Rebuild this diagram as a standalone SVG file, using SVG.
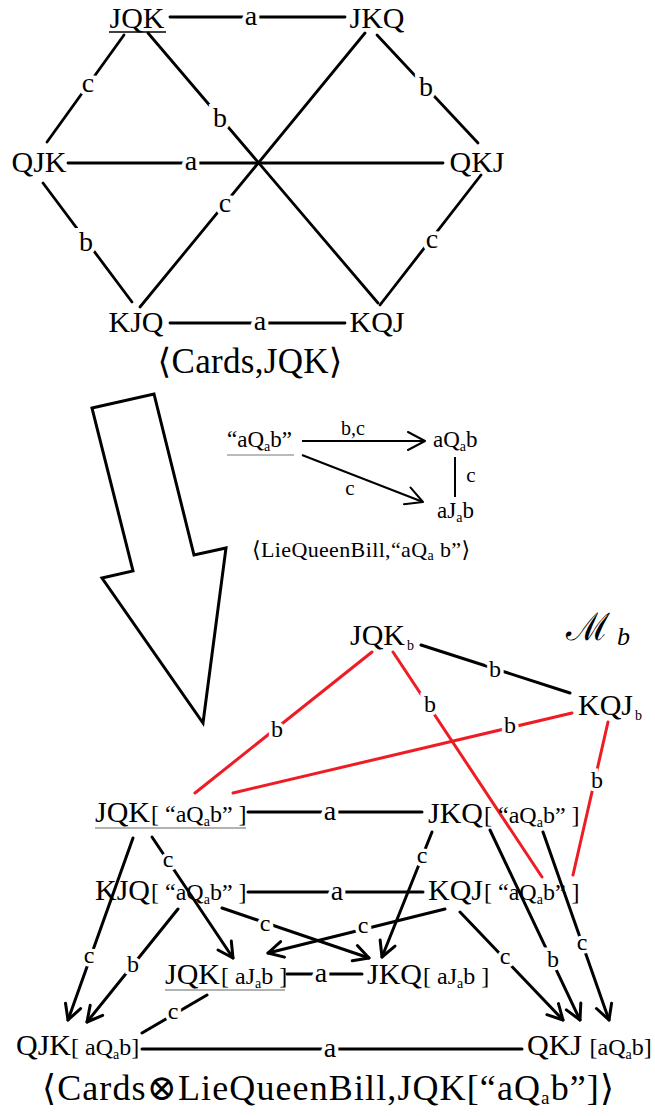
<svg xmlns="http://www.w3.org/2000/svg" width="655" height="1116" viewBox="0 0 655 1116">
<style>
text{font-family:"Liberation Serif","DejaVu Serif",serif;fill:#000}
.n{font-size:30px}
.nm{font-size:30px;text-anchor:middle}
.br{font-size:24px}
.sub{font-size:14px}
.lh{font-size:28px;text-anchor:middle;stroke:#fff;stroke-width:8px;paint-order:stroke}
.ls{font-size:24px;text-anchor:middle;stroke:#fff;stroke-width:7px;paint-order:stroke}
.lm{font-size:21px;text-anchor:middle}
.k{stroke:#000;stroke-width:2.8;fill:none;stroke-linecap:round}
.kb{stroke:#000;stroke-width:3;fill:none;stroke-linecap:round}
.km{stroke:#000;stroke-width:2;fill:none}
.r{stroke:#ee1c25;stroke-width:3;fill:none;stroke-linecap:round}
.ul{stroke:#999;stroke-width:1.5}
.cap{font-size:35px;text-anchor:middle}
</style>
<defs>
<marker id="ah" markerUnits="userSpaceOnUse" viewBox="0 0 20 20" refX="18" refY="10" markerWidth="20" markerHeight="20" orient="auto"><path d="M3,2 L18,10 L3,18" fill="none" stroke="#000" stroke-width="3" stroke-linecap="round" stroke-linejoin="round"/></marker>
<marker id="am" markerUnits="userSpaceOnUse" viewBox="0 0 20 20" refX="19" refY="10" markerWidth="20" markerHeight="20" orient="auto"><path d="M2,1 L19,10 L2,19" fill="none" stroke="#000" stroke-width="2" stroke-linecap="round" stroke-linejoin="round"/></marker>
</defs>
<rect width="655" height="1116" fill="#fff"/>

<!-- Top hexagon connectors -->
<g id="connectors-top">
<line class="k" x1="170" y1="17" x2="345" y2="17"/>
<line class="k" x1="124" y1="35" x2="47" y2="142"/>
<line class="k" x1="148" y1="33" x2="378" y2="303"/>
<line class="k" x1="365" y1="33" x2="140" y2="307"/>
<line class="k" x1="377" y1="35" x2="478" y2="143"/>
<line class="k" x1="68" y1="163" x2="443" y2="163"/>
<line class="k" x1="43" y1="183" x2="132" y2="302"/>
<line class="k" x1="481" y1="175" x2="380" y2="305"/>
<line class="k" x1="170" y1="323" x2="345" y2="323"/>
<text class="lh" x="251" y="25">a</text>
<text class="lh" x="88" y="92">c</text>
<text class="lh" x="220" y="127">b</text>
<text class="lh" x="225" y="212">c</text>
<text class="lh" x="426" y="96">b</text>
<text class="lh" x="191" y="170">a</text>
<text class="lh" x="86" y="251">b</text>
<text class="lh" x="432" y="248">c</text>
<text class="lh" x="260" y="330">a</text>
</g>

<g id="node-JQK"><text class="nm" x="137" y="28">JQK</text><line class="ul" x1="109" y1="32" x2="166" y2="32" style="stroke:#000"/></g>
<g id="node-JKQ"><text class="nm" x="377" y="28">JKQ</text></g>
<g id="node-QJK"><text class="nm" x="39" y="172">QJK</text></g>
<g id="node-QKJ"><text class="nm" x="477" y="172">QKJ</text></g>
<g id="node-KJQ"><text class="nm" x="136" y="332">KJQ</text></g>
<g id="node-KQJ"><text class="nm" x="377" y="332">KQJ</text></g>
<g id="caption-cards"><text class="cap" x="250" y="373" textLength="185" lengthAdjust="spacing">⟨Cards,JQK⟩</text></g>

<!-- Big hollow arrow -->
<g id="big-arrow"><polygon points="92,408 154,394 194,555 226,548 203,723 102,578 133,571" fill="#fff" stroke="#000" stroke-width="3" stroke-linejoin="miter"/></g>

<!-- Middle LieQueenBill diagram -->
<g id="connectors-mid">
<line class="km" x1="302" y1="441" x2="425" y2="441" marker-end="url(#am)"/>
<line class="km" x1="302" y1="455" x2="423" y2="502" marker-end="url(#am)"/>
<line class="km" x1="455" y1="457" x2="455" y2="497"/>
<text class="lm" x="353" y="435" style="font-size:20px">b,c</text>
<text class="lm" x="350" y="495">c</text>
<text class="lm" x="471" y="482">c</text>
</g>
<g id="node-aQab-start"><text x="227" y="447" style="font-size:23px">“aQ<tspan class="sub" dy="4">a</tspan><tspan dy="-4">b”</tspan></text><line x1="227" y1="455" x2="294" y2="455" stroke="#777" stroke-width="1"/></g>
<g id="node-aQab"><text x="433" y="447" style="font-size:23px">aQ<tspan class="sub" dy="4">a</tspan><tspan dy="-4">b</tspan></text></g>
<g id="node-aJab"><text x="437" y="518" style="font-size:23px">aJ<tspan class="sub" dy="4">a</tspan><tspan dy="-4">b</tspan></text></g>
<g id="caption-lqb"><text x="252" y="557" style="font-size:22px" textLength="218" lengthAdjust="spacing">⟨LieQueenBill,“aQ<tspan class="sub" dy="3">a</tspan><tspan dy="-3"> b”⟩</tspan></text></g>

<!-- Bottom product diagram connectors -->
<g id="connectors-bottom">
<line class="r" x1="372" y1="652" x2="195" y2="793"/>
<line class="r" x1="572" y1="713" x2="233" y2="793"/>
<line class="r" x1="393" y1="652" x2="542" y2="877"/>
<line class="r" x1="608" y1="722" x2="573" y2="875"/>
<text class="ls" x="277" y="737">b</text>
<text class="ls" x="510" y="733">b</text>
<text class="ls" x="430" y="712">b</text>
<text class="ls" x="597" y="788">b</text>
<line class="kb" x1="421" y1="645" x2="570" y2="693"/>
<text class="ls" x="495" y="677">b</text>
<line class="kb" x1="248" y1="812" x2="422" y2="812"/>
<text class="lh" x="330" y="820">a</text>
<line class="kb" x1="248" y1="892" x2="423" y2="892"/>
<text class="lh" x="337" y="900">a</text>
<line class="kb" x1="287" y1="974" x2="362" y2="974"/>
<text class="lh" x="321" y="982">a</text>
<line class="kb" x1="142" y1="1049" x2="522" y2="1049"/>
<text class="lh" x="330" y="1057">a</text>

<line class="kb" x1="133" y1="838" x2="68" y2="1020" marker-end="url(#ah)"/>
<line class="kb" x1="152" y1="837" x2="233" y2="958" marker-end="url(#ah)"/>
<line class="kb" x1="178" y1="909" x2="87" y2="1022" marker-end="url(#ah)"/>
<line class="kb" x1="222" y1="908" x2="369" y2="958" marker-end="url(#ah)"/>
<line class="kb" x1="445" y1="909" x2="268" y2="953" marker-end="url(#ah)"/>
<line class="kb" x1="432" y1="832" x2="382" y2="957" marker-end="url(#ah)"/>
<line class="kb" x1="460" y1="912" x2="563" y2="1020" marker-end="url(#ah)"/>
<line class="kb" x1="490" y1="830" x2="580" y2="1020" marker-end="url(#ah)"/>
<line class="kb" x1="543" y1="832" x2="609" y2="1020" marker-end="url(#ah)"/>
<line class="kb" x1="207" y1="995" x2="142" y2="1033"/>
<text class="ls" x="89" y="963">c</text>
<text class="ls" x="168" y="867">c</text>
<text class="ls" x="133" y="972">b</text>
<text class="ls" x="265" y="931">c</text>
<text class="ls" x="363" y="933">c</text>
<text class="ls" x="422" y="863">c</text>
<text class="ls" x="505" y="964">c</text>
<text class="ls" x="553" y="967">b</text>
<text class="ls" x="582" y="950">c</text>
<text class="ls" x="173" y="1019">c</text>
</g>

<!-- Bottom nodes -->
<g id="node-Mb"><text x="566" y="640" style="font-family:'DejaVu Serif',serif;font-size:38px">ℳ</text><text x="617" y="645" style="font-family:'Liberation Serif',serif;font-style:italic;font-size:26px">b</text></g>
<g id="node-JQKb"><text class="n" x="350" y="645">JQK<tspan class="sub" dx="2" dy="5">b</tspan></text></g>
<g id="node-KQJb"><text class="n" x="578" y="715">KQJ<tspan class="sub" dx="2" dy="5">b</tspan></text></g>

<g id="node-JQK-aQab"><text class="n" x="95" y="822">JQK<tspan class="br" dx="1">[ “aQ</tspan><tspan class="sub" dy="4">a</tspan><tspan class="br" dy="-4">b” ]</tspan></text><line class="ul" x1="95" y1="828" x2="246" y2="828"/></g>
<g id="node-JKQ-aQab"><text class="n" x="428" y="823">JKQ<tspan class="br" dx="1">[ “aQ</tspan><tspan class="sub" dy="4">a</tspan><tspan class="br" dy="-4">b” ]</tspan></text></g>
<g id="node-KJQ-aQab"><text class="n" x="95" y="900">KJQ<tspan class="br" dx="1">[ “aQ</tspan><tspan class="sub" dy="4">a</tspan><tspan class="br" dy="-4">b” ]</tspan></text></g>
<g id="node-KQJ-aQab"><text class="n" x="428" y="900">KQJ<tspan class="br" dx="1">[ “aQ</tspan><tspan class="sub" dy="4">a</tspan><tspan class="br" dy="-4">b” ]</tspan></text></g>
<g id="node-JQK-aJab"><text class="n" x="165" y="984">JQK<tspan class="br" dx="1">[ aJ</tspan><tspan class="sub" dy="4">a</tspan><tspan class="br" dy="-4">b ]</tspan></text><line class="ul" x1="165" y1="990" x2="285" y2="990"/></g>
<g id="node-JKQ-aJab"><text class="n" x="367" y="984">JKQ<tspan class="br" dx="1">[ aJ</tspan><tspan class="sub" dy="4">a</tspan><tspan class="br" dy="-4">b ]</tspan></text></g>
<g id="node-QJK-aQab"><text class="n" x="16" y="1055">QJK<tspan class="br">[ aQ</tspan><tspan class="sub" dy="4">a</tspan><tspan class="br" dy="-4">b]</tspan></text></g>
<g id="node-QKJ-aQab"><text class="n" x="527" y="1055">QKJ <tspan class="br">[aQ</tspan><tspan class="sub" dy="4">a</tspan><tspan class="br" dy="-4">b]</tspan></text></g>
<g id="caption-product"><text class="cap" x="328" y="1100" style="font-size:36px" textLength="572" lengthAdjust="spacing">⟨Cards⊗LieQueenBill,JQK[“aQ<tspan style="font-size:19px" dy="4">a</tspan><tspan dy="-4">b”]⟩</tspan></text></g>
</svg>
